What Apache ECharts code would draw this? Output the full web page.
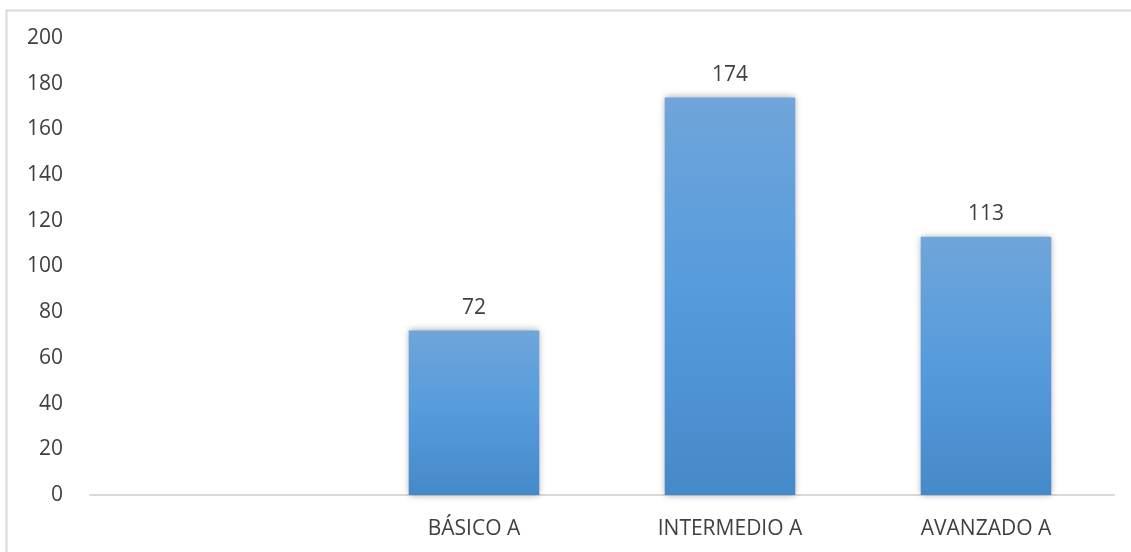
<!DOCTYPE html>
<html><head><meta charset="utf-8">
<script src="https://cdn.jsdelivr.net/npm/echarts@6/dist/echarts.min.js"></script>
<style>html,body{margin:0;padding:0;background:#fff}#c{width:1131px;height:552px}</style>
</head><body><div id="c"></div>
<script>
const categories = ['', 'BÁSICO A', 'INTERMEDIO A', 'AVANZADO A'];
const values = [null, 72, 174, 113];
const yTicks = { min: 0, max: 200, interval: 20 };

const chart = echarts.init(document.getElementById('c'), null, {renderer: 'canvas'});
chart.setOption({
  backgroundColor: '#fff',
  animation: false,
  graphic: [{
    type: 'polyline',
    shape: { points: [[6.5, 552], [6.5, 10.5], [1131, 10.5]] },
    style: { stroke: '#d9d9d9', lineWidth: 2, fill: null },
    silent: true
  }],
  grid: { left: 90, right: 17, top: 38, bottom: 57 },
  xAxis: {
    type: 'category',
    data: categories,
    axisLine: { lineStyle: { color: '#d9d9d9', width: 2 } },
    axisTick: { show: false },
    axisLabel: { color: '#404040', fontSize: 21, fontFamily: 'Open Sans', margin: 24 }
  },
  yAxis: {
    type: 'value',
    min: yTicks.min, max: yTicks.max, interval: yTicks.interval,
    axisLine: { show: false },
    axisTick: { show: false },
    splitLine: { show: false },
    axisLabel: { color: '#404040', fontSize: 21, fontFamily: 'Open Sans', margin: 27 }
  },
  series: [{
    type: 'bar',
    data: values,
    barWidth: '51%',
    itemStyle: {
      color: new echarts.graphic.LinearGradient(0, 0, 0, 1, [
        { offset: 0, color: '#6fa5da' },
        { offset: 0.5, color: '#559bdc' },
        { offset: 1, color: '#4689c9' }
      ]),
      shadowColor: 'rgba(0,0,0,0.35)',
      shadowBlur: 7,
      shadowOffsetX: 0,
      shadowOffsetY: 0
    },
    label: {
      show: true, position: 'top', distance: 12,
      color: '#404040', fontSize: 21, fontFamily: 'Open Sans'
    }
  }]
});
</script></body></html>
